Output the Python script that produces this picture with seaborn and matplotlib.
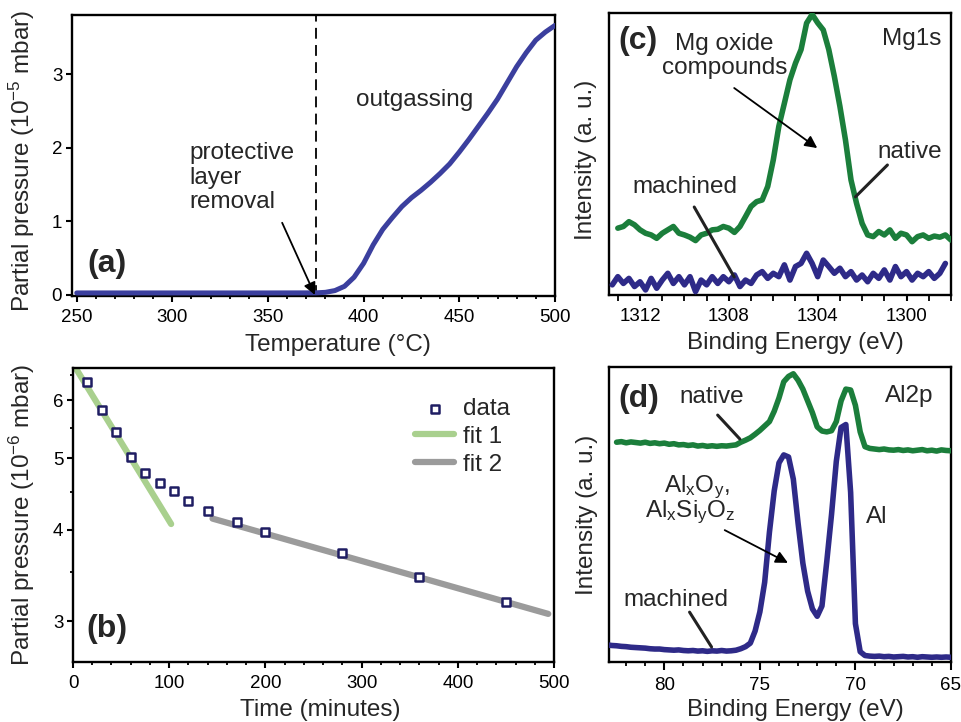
import numpy as np
import matplotlib
matplotlib.use("Agg")
import matplotlib.pyplot as plt
import seaborn as sns
from matplotlib.ticker import MultipleLocator, FixedLocator, FixedFormatter, NullFormatter

# ---------------- data ----------------
# (a) outgassing during heating
temp_c = [250, 300, 350, 375, 380, 385, 390, 395, 400, 405, 410, 415, 420, 425,
          430, 435, 440, 445, 450, 455, 460, 465, 470, 475, 480, 485, 490, 495, 500]
pressure_a = [0.027, 0.027, 0.027, 0.028, 0.035, 0.059, 0.117, 0.24, 0.43, 0.68, 0.89,
              1.05, 1.20, 1.32, 1.42, 1.53, 1.65, 1.78, 1.94, 2.11, 2.29, 2.47, 2.66,
              2.88, 3.10, 3.29, 3.46, 3.57, 3.66]
removal_temp = 375

# (b) pump-down after heating
time_min = [15, 30, 45, 60, 75, 90, 105, 120, 140, 170, 200, 280, 360, 450]
pressure_b = [6.35, 5.82, 5.43, 5.03, 4.77, 4.63, 4.51, 4.37, 4.24, 4.10, 3.97, 3.72, 3.45, 3.19]
fit1_time = [0, 102]
fit1_p = [6.73, 4.07]
fit2_time = [145, 494]
fit2_p = [4.14, 3.07]

# (c) Mg1s spectra, 0.25 eV steps
mg_step = 0.25
mg_native_start = 1313.0
mg_native = [0.237, 0.243, 0.260, 0.249, 0.231, 0.219, 0.213, 0.201, 0.219, 0.231,
             0.243, 0.219, 0.213, 0.205, 0.193, 0.213, 0.219, 0.231, 0.233, 0.243,
             0.237, 0.222, 0.243, 0.278, 0.314, 0.331, 0.337, 0.385, 0.479, 0.598,
             0.680, 0.763, 0.822, 0.870, 0.964, 0.995, 0.965, 0.940, 0.870, 0.775,
             0.669, 0.550, 0.408, 0.325, 0.254, 0.213, 0.207, 0.225, 0.213, 0.231,
             0.201, 0.219, 0.213, 0.189, 0.207, 0.213, 0.201, 0.209, 0.205, 0.213, 0.195]
mg_machined_start = 1313.25
mg_machined = [0.036, 0.065, 0.041, 0.059, 0.030, 0.047, 0.018, 0.059, 0.024, 0.053,
               0.077, 0.041, 0.065, 0.036, 0.065, 0.012, 0.053, 0.036, 0.065, 0.041,
               0.065, 0.047, 0.071, 0.030, 0.053, 0.041, 0.071, 0.083, 0.059, 0.077,
               0.065, 0.107, 0.053, 0.101, 0.112, 0.148, 0.112, 0.065, 0.124, 0.101,
               0.077, 0.095, 0.065, 0.083, 0.053, 0.071, 0.047, 0.077, 0.059, 0.089,
               0.053, 0.101, 0.065, 0.083, 0.053, 0.077, 0.065, 0.083, 0.059, 0.077, 0.112]

# (d) Al2p spectra, 0.25 eV steps
al_step = 0.25
al_native_start = 82.5
al_native = [0.745, 0.747, 0.743, 0.746, 0.744, 0.742, 0.745, 0.741, 0.743, 0.740,
             0.742, 0.738, 0.740, 0.736, 0.737, 0.734, 0.736, 0.732, 0.734, 0.731,
             0.733, 0.731, 0.733, 0.732, 0.734, 0.736, 0.745, 0.752, 0.760, 0.772,
             0.785, 0.800, 0.815, 0.850, 0.895, 0.950, 0.968, 0.977, 0.955, 0.925,
             0.885, 0.845, 0.797, 0.783, 0.780, 0.784, 0.815, 0.885, 0.925, 0.922,
             0.870, 0.780, 0.730, 0.724, 0.722, 0.720, 0.722, 0.719, 0.718, 0.720,
             0.717, 0.719, 0.716, 0.718, 0.720, 0.716, 0.718, 0.715, 0.719, 0.717, 0.716]
al_machined_start = 83.0
al_machined = [0.058, 0.056, 0.055, 0.053, 0.052, 0.050, 0.049, 0.048, 0.047, 0.045,
               0.044, 0.044, 0.042, 0.041, 0.040, 0.041, 0.039, 0.038, 0.039, 0.037,
               0.038, 0.036, 0.038, 0.037, 0.039, 0.037, 0.038, 0.040, 0.045, 0.052,
               0.064, 0.105, 0.170, 0.270, 0.440, 0.580, 0.675, 0.702, 0.695, 0.620,
               0.470, 0.335, 0.240, 0.180, 0.155, 0.190, 0.340, 0.500, 0.680, 0.795,
               0.805, 0.575, 0.130, 0.035, 0.022, 0.020, 0.019, 0.020, 0.018, 0.019,
               0.017, 0.018, 0.019, 0.017, 0.018, 0.016, 0.018, 0.017, 0.016, 0.017,
               0.016, 0.017, 0.016]


def energies(start, step, values):
    return start - step * np.arange(len(values))


# ---------------- style ----------------
sns.set_style("ticks")
plt.rcParams.update({
    "font.family": ["Liberation Sans", "DejaVu Sans"],
    "mathtext.fontset": "custom",
    "mathtext.rm": "Liberation Sans",
    "mathtext.it": "Liberation Sans:italic",
    "mathtext.bf": "Liberation Sans:bold",
    "mathtext.default": "regular",
    "axes.linewidth": 1.7,
    "axes.edgecolor": "black",
    "xtick.color": "black",
    "ytick.color": "black",
    "xtick.labelsize": 13.5,
    "ytick.labelsize": 13.5,
    "xtick.direction": "out",
    "ytick.direction": "out",
    "xtick.major.width": 1.5,
    "ytick.major.width": 1.5,
    "xtick.minor.width": 1.3,
    "ytick.minor.width": 1.3,
    "xtick.major.size": 4,
    "ytick.major.size": 4,
    "xtick.minor.size": 2.5,
    "ytick.minor.size": 2.5,
    "xtick.major.pad": 5,
    "ytick.major.pad": 3,
})

LABEL = 17.5
NOTE = 17.5
LETTER = 23

BLUE_A = "#3b3f9e"
NAVY = "#1f1d63"
FIT1 = "#a9d08e"
FIT2 = "#9b9b9b"
GREEN = "#1b7e3b"
BLUE = "#2e2a88"

fig = plt.figure(figsize=(9.62, 7.22), dpi=100)
ax_a = fig.add_axes([0.0748, 0.590, 0.502, 0.389])
ax_b = fig.add_axes([0.0759, 0.0831, 0.500, 0.4072])
ax_c = fig.add_axes([0.633, 0.5914, 0.3555, 0.3906])
ax_d = fig.add_axes([0.633, 0.0831, 0.3555, 0.4086])

for ax in (ax_a, ax_b, ax_c, ax_d):
    for side in ("top", "right", "left", "bottom"):
        ax.spines[side].set_visible(True)
        ax.spines[side].set_linewidth(1.7)


def set_labels(ax, xlabel, ylabel, xpos, ypos):
    ax.set_xlabel(xlabel, fontsize=LABEL, va="center", ha="center")
    ax.set_ylabel(ylabel, fontsize=LABEL, va="center", ha="center")
    ax.xaxis.set_label_coords(*xpos)
    ax.yaxis.set_label_coords(*ypos)


# ---------------- (a) ----------------
sns.lineplot(x=temp_c, y=pressure_a, ax=ax_a, color=BLUE_A, lw=3.6, sort=False,
             estimator=None, zorder=3)
ax_a.axvline(removal_temp, color="black", lw=1.3, ls=(0, (6, 3.5)), zorder=2)
ax_a.set_xlim(247.5, 500)
ax_a.set_ylim(-0.015, 3.80)
ax_a.xaxis.set_major_locator(MultipleLocator(50))
ax_a.xaxis.set_minor_locator(MultipleLocator(10))
ax_a.yaxis.set_major_locator(MultipleLocator(1))
set_labels(ax_a, "Temperature (°C)", "Partial pressure (10$^{-5}$ mbar)",
           (0.551, -0.174), (-0.104, 0.48))
ax_a.text(309, 1.59, "protective\nlayer\nremoval", fontsize=NOTE, ha="left",
          va="center", linespacing=1.15)
ax_a.annotate("", xy=(374.5, 0.0), xytext=(357.4, 0.98),
              arrowprops=dict(arrowstyle="-|>", color="black", lw=1.3,
                              mutation_scale=18, shrinkA=0, shrinkB=0))
ax_a.text(426.9, 2.65, "outgassing", fontsize=NOTE, ha="center", va="center")
ax_a.text(0.072, 0.114, "(a)", transform=ax_a.transAxes, fontsize=LETTER,
          fontweight="bold", ha="center", va="center")

# ---------------- (b) ----------------
sns.lineplot(x=fit1_time, y=fit1_p, ax=ax_b, color=FIT1, lw=4.5, sort=False,
             estimator=None, label="fit 1", zorder=2)
sns.lineplot(x=fit2_time, y=fit2_p, ax=ax_b, color=FIT2, lw=4.5, sort=False,
             estimator=None, label="fit 2", zorder=2)
sns.scatterplot(x=time_min, y=pressure_b, ax=ax_b, marker="s", s=40,
                facecolor="white", edgecolor=NAVY, linewidth=1.8, label="data",
                zorder=4)
ax_b.set_yscale("log")
ax_b.set_xlim(0, 500)
ax_b.set_ylim(2.64, 6.64)
ax_b.xaxis.set_major_locator(MultipleLocator(100))
ax_b.xaxis.set_minor_locator(MultipleLocator(20))
ax_b.yaxis.set_major_locator(FixedLocator([3, 4, 5, 6]))
ax_b.yaxis.set_major_formatter(FixedFormatter(["3", "4", "5", "6"]))
ax_b.yaxis.set_minor_locator(FixedLocator([3.5, 4.5, 5.5, 6.5]))
ax_b.yaxis.set_minor_formatter(NullFormatter())
set_labels(ax_b, "Time (minutes)", "Partial pressure (10$^{-6}$ mbar)",
           (0.513, -0.163), (-0.106, 0.50))
handles, labels = ax_b.get_legend_handles_labels()
order = [labels.index(k) for k in ("data", "fit 1", "fit 2")]
ax_b.legend([handles[i] for i in order], [labels[i] for i in order],
            loc="upper left", bbox_to_anchor=(0.712, 0.898), frameon=False,
            fontsize=NOTE, borderpad=0, borderaxespad=0, handlelength=1.6,
            handletextpad=0.35, labelspacing=0.24, scatterpoints=1)
ax_b.text(0.071, 0.112, "(b)", transform=ax_b.transAxes, fontsize=LETTER,
          fontweight="bold", ha="center", va="center")

# ---------------- (c) ----------------
sns.lineplot(x=energies(mg_native_start, mg_step, mg_native), y=mg_native, ax=ax_c,
             color=GREEN, lw=4, sort=False, estimator=None, zorder=3)
sns.lineplot(x=energies(mg_machined_start, mg_step, mg_machined), y=mg_machined,
             ax=ax_c, color=BLUE, lw=4, sort=False, estimator=None, zorder=3)
ax_c.set_xlim(1313.4, 1298.0)
ax_c.set_ylim(0, 1)
ax_c.xaxis.set_major_locator(MultipleLocator(4))
ax_c.xaxis.set_minor_locator(MultipleLocator(1))
ax_c.tick_params(axis="x", which="minor", length=4)
ax_c.set_yticks([])
set_labels(ax_c, "Binding Energy (eV)", "Intensity (a. u.)", (0.544, -0.170),
           (-0.067, 0.48))
ax_c.text(1308.2, 0.848, "Mg oxide\ncompounds", fontsize=NOTE, ha="center",
          va="center", linespacing=1.1)
ax_c.annotate("", xy=(1304.02, 0.521), xytext=(1307.76, 0.734),
              arrowprops=dict(arrowstyle="-|>", color="black", lw=1.3,
                              mutation_scale=18, shrinkA=0, shrinkB=0))
ax_c.text(1299.78, 0.908, "Mg1s", fontsize=NOTE, ha="center", va="center")
ax_c.text(1299.87, 0.507, "native", fontsize=NOTE, ha="center", va="center")
ax_c.annotate("", xy=(1302.3, 0.348), xytext=(1300.86, 0.461),
              arrowprops=dict(arrowstyle="-", color="#222222", lw=2.2,
                              shrinkA=0, shrinkB=0))
ax_c.text(1309.97, 0.383, "machined", fontsize=NOTE, ha="center", va="center")
ax_c.annotate("", xy=(1307.76, 0.064), xytext=(1309.56, 0.312),
              arrowprops=dict(arrowstyle="-", color="#222222", lw=2.2,
                              shrinkA=0, shrinkB=0))
ax_c.text(0.085, 0.90, "(c)", transform=ax_c.transAxes, fontsize=LETTER,
          fontweight="bold", ha="center", va="center")

# ---------------- (d) ----------------
sns.lineplot(x=energies(al_native_start, al_step, al_native), y=al_native, ax=ax_d,
             color=GREEN, lw=4, sort=False, estimator=None, zorder=3)
sns.lineplot(x=energies(al_machined_start, al_step, al_machined), y=al_machined,
             ax=ax_d, color=BLUE, lw=4, sort=False, estimator=None, zorder=3)
ax_d.set_xlim(82.9, 65.0)
ax_d.set_ylim(0, 1)
ax_d.xaxis.set_major_locator(MultipleLocator(5))
ax_d.xaxis.set_minor_locator(MultipleLocator(1))
ax_d.tick_params(axis="x", which="major", length=5.5)
ax_d.tick_params(axis="x", which="minor", length=3)
ax_d.set_yticks([])
set_labels(ax_d, "Binding Energy (eV)", "Intensity (a. u.)", (0.544, -0.163),
           (-0.064, 0.50))
ax_d.text(77.53, 0.898, "native", fontsize=NOTE, ha="center", va="center")
ax_d.annotate("", xy=(76.05, 0.756), xytext=(77.21, 0.837),
              arrowprops=dict(arrowstyle="-", color="#222222", lw=2.2,
                              shrinkA=0, shrinkB=0))
ax_d.text(67.16, 0.902, "Al2p", fontsize=NOTE, ha="center", va="center")
ax_d.text(78.32, 0.593, "Al$_x$O$_y$,", fontsize=NOTE, ha="center", va="center")
ax_d.text(78.63, 0.508, "Al$_x$Si$_y$O$_z$", fontsize=NOTE, ha="center", va="center")
ax_d.annotate("", xy=(73.53, 0.336), xytext=(76.84, 0.447),
              arrowprops=dict(arrowstyle="-|>", color="black", lw=1.3,
                              mutation_scale=18, shrinkA=0, shrinkB=0))
ax_d.text(68.89, 0.492, "Al", fontsize=NOTE, ha="center", va="center")
ax_d.text(79.37, 0.210, "machined", fontsize=NOTE, ha="center", va="center")
ax_d.annotate("", xy=(77.53, 0.051), xytext=(78.68, 0.169),
              arrowprops=dict(arrowstyle="-", color="#222222", lw=2.2,
                              shrinkA=0, shrinkB=0))
ax_d.text(0.088, 0.892, "(d)", transform=ax_d.transAxes, fontsize=LETTER,
          fontweight="bold", ha="center", va="center")

for ax in (ax_a, ax_c, ax_d):
    leg = ax.get_legend()
    if leg is not None:
        leg.remove()

fig.savefig("out.png", dpi=100)
